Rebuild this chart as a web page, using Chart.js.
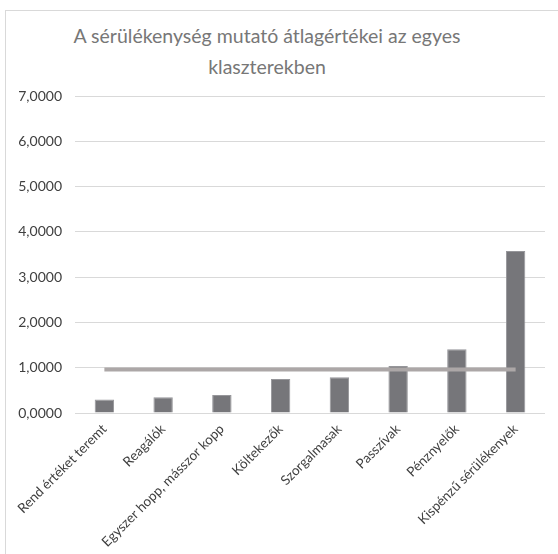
<!DOCTYPE html>
<html>
<head>
<meta charset="utf-8">
<script src="https://cdn.jsdelivr.net/npm/chart.js@4"></script>
<style>
  html, body { margin:0; padding:0; background:#fff; }
  body { width:558px; height:554px; position:relative; overflow:hidden; }
  #frame { position:absolute; left:5px; top:10px; width:600px; height:600px; border:1px solid #d9d9d9; box-sizing:border-box; }
  #title { position:absolute; left:0; width:534px; top:20px; text-align:center; font-family:Lato, "Open Sans", sans-serif; font-size:19.5px; line-height:31px; color:#777777; }
  #wrap { position:absolute; left:0; top:0; width:558px; height:554px; }
</style>
</head>
<body>
<div id="frame"></div>
<div id="title">A sérülékenység mutató átlagértékei az egyes<br>klaszterekben</div>
<div id="wrap"><canvas id="c" width="558" height="554"></canvas></div>
<script>
const categories = ["Rend értéket teremt", "Reagálók", "Egyszer hopp, másszor kopp", "Költekezők", "Szorgalmasak", "Passzívak", "Pénznyelők", "Kispénzű sérülékenyek"];
const clusterMeans = [0.30, 0.35, 0.40, 0.75, 0.79, 1.04, 1.41, 3.58];
const overallMean = [0.96, 0.96, 0.96, 0.96, 0.96, 0.96, 0.96, 0.96];
const yTicks = [0, 1, 2, 3, 4, 5, 6, 7];

new Chart(document.getElementById('c'), {
  data: {
    labels: categories,
    datasets: [
      { type: 'line', data: overallMean, borderColor: '#aca7a7', borderWidth: 4, pointRadius: 0, borderCapStyle: 'butt', order: 0 },
      { type: 'bar', data: clusterMeans, backgroundColor: '#76767a', borderColor: '#96969a', borderWidth: 1, barPercentage: 0.33, categoryPercentage: 1, order: 1 }
    ]
  },
  options: {
    responsive: false,
    animation: false,
    layout: { padding: { top: 96, right: 13, left: 0, bottom: 0 } },
    plugins: { legend: { display: false }, tooltip: { enabled: false }, title: { display: false } },
    scales: {
      x: {
        grid: { display: false },
        border: { display: false },
        ticks: { color: '#404040', font: { family: 'Lato', size: 13.5 }, minRotation: 45, maxRotation: 45, padding: 0 },
        afterFit: s => { s.height = 141; }
      },
      y: {
        min: 0, max: 7,
        afterBuildTicks: s => { s.ticks = yTicks.map(v => ({ value: v })); },
        grid: { color: '#d9d9d9', drawTicks: false, lineWidth: 1 },
        border: { display: false },
        ticks: { color: '#404040', font: { family: 'Lato', size: 14 }, padding: 13, callback: v => v.toFixed(4).replace('.', ',') },
        afterFit: s => { s.width = 75; }
      }
    }
  }
});
</script>
</body>
</html>
